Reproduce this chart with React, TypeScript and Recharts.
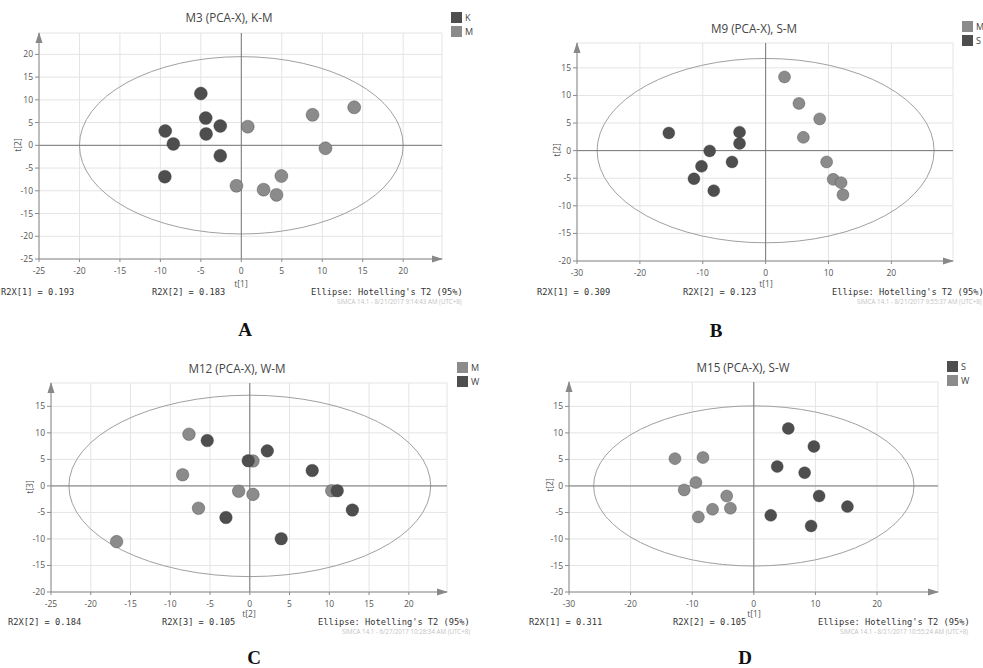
import React from 'react';
import {
  ScatterChart,
  Scatter,
  XAxis,
  YAxis,
  CartesianGrid,
  ReferenceLine,
  ReferenceArea,
  ReferenceDot,
} from 'recharts';

// ---- data (scores) ----
const m3K = [
  { x: -5.0, y: 11.4 }, { x: -4.4, y: 6.0 }, { x: -4.35, y: 2.5 }, { x: -2.6, y: 4.25 },
  { x: -9.4, y: 3.15 }, { x: -8.4, y: 0.3 }, { x: -2.6, y: -2.3 }, { x: -9.45, y: -6.9 },
];
const m3M = [
  { x: 0.8, y: 4.1 }, { x: 8.8, y: 6.7 }, { x: 13.95, y: 8.35 }, { x: 10.4, y: -0.65 },
  { x: 4.95, y: -6.75 }, { x: 2.75, y: -9.75 }, { x: 4.35, y: -10.9 }, { x: -0.6, y: -8.9 },
];

const m9S = [
  { x: -15.4, y: 3.2 }, { x: -4.15, y: 3.35 }, { x: -4.15, y: 1.3 }, { x: -8.9, y: -0.05 },
  { x: -10.2, y: -2.85 }, { x: -11.4, y: -5.1 }, { x: -5.35, y: -2.05 }, { x: -8.25, y: -7.25 },
];
const m9M = [
  { x: 3.0, y: 13.35 }, { x: 5.3, y: 8.55 }, { x: 8.6, y: 5.75 }, { x: 6.0, y: 2.4 },
  { x: 9.7, y: -2.05 }, { x: 10.75, y: -5.2 }, { x: 12.0, y: -5.8 }, { x: 12.3, y: -8.0 },
];

const m12M = [
  { x: -7.65, y: 9.75 }, { x: -8.45, y: 2.1 }, { x: -6.45, y: -4.2 }, { x: -1.4, y: -1.0 },
  { x: 0.4, y: -1.6 }, { x: 0.4, y: 4.7 }, { x: 10.3, y: -0.9 }, { x: -16.75, y: -10.5 },
];
const m12W = [
  { x: -5.35, y: 8.55 }, { x: 2.2, y: 6.6 }, { x: -0.2, y: 4.75 }, { x: 7.85, y: 2.9 },
  { x: 11.0, y: -0.9 }, { x: 12.9, y: -4.55 }, { x: -3.0, y: -5.95 }, { x: 3.95, y: -9.95 },
];

const m15W = [
  { x: -12.8, y: 5.15 }, { x: -8.25, y: 5.35 }, { x: -9.4, y: 0.65 }, { x: -11.3, y: -0.75 },
  { x: -4.4, y: -1.9 }, { x: -3.8, y: -4.2 }, { x: -6.7, y: -4.4 }, { x: -9.0, y: -5.85 },
];
const m15S = [
  { x: 5.6, y: 10.85 }, { x: 9.75, y: 7.45 }, { x: 3.8, y: 3.65 }, { x: 8.25, y: 2.5 },
  { x: 10.6, y: -1.9 }, { x: 15.2, y: -3.9 }, { x: 2.75, y: -5.55 }, { x: 9.3, y: -7.55 },
];

// Hotelling's T2 (95%) ellipse semi-axes [t-x, t-y]
const m3Ellipse = [20, 19.5];
const m9Ellipse = [26.8, 16.7];
const m12Ellipse = [22.75, 17.1];
const m15Ellipse = [26, 15.1];

const ticks25 = [-25, -20, -15, -10, -5, 0, 5, 10, 15, 20];
const ticks30 = [-30, -20, -10, 0, 10, 20];
const ticks20 = [-20, -15, -10, -5, 0, 5, 10, 15];

const DARK = '#4e4e4e';
const LIGHT = '#8b8b8b';
const MONO = '"DejaVu Sans Mono", "Liberation Mono", monospace';
const SANS = '"Open Sans", "Noto Sans", sans-serif';

const panels = [
  {
    key: 'A', left: 0, top: 0, width: 490, height: 310,
    margin: { top: 33, right: 48, bottom: 31, left: 9 },
    xDomain: [-25, 24.8], yDomain: [-25, 24.7], xTicks: ticks25, yTicks: ticks25,
    ellipse: m3Ellipse, r: 6.5,
    series: [{ name: 'K', color: DARK, data: m3K }, { name: 'M', color: LIGHT, data: m3M }],
    title: 'M3 (PCA-X), K-M', titleAt: [229, 17],
    legendAt: [451, 12], xLabel: 't[1]', xLabelAt: [241, 283], yLabel: 't[2]', yLabelAt: [17, 145],
    stat1: 'R2X[1] = 0.193', stat1At: 1, stat2: 'R2X[2] = 0.183', stat2At: 152,
    ellAt: 311, statY: 292,
    stamp: 'SIMCA 14.1 - 8/21/2017 9:14:43 AM (UTC+8)', stampAt: [337, 301],
    letterAt: [245, 330],
  },
  {
    key: 'B', left: 490, top: 0, width: 493, height: 310,
    margin: { top: 43, right: 30, bottom: 29, left: 57 },
    xDomain: [-30, 29.8], yDomain: [-20, 19.5], xTicks: ticks30, yTicks: ticks20,
    ellipse: m9Ellipse, r: 6,
    series: [{ name: 'S', color: DARK, data: m9S }, { name: 'M', color: LIGHT, data: m9M }],
    legendOrder: ['M', 'S'],
    title: 'M9 (PCA-X), S-M', titleAt: [754, 28],
    legendAt: [962, 21], xLabel: 't[1]', xLabelAt: [766, 283], yLabel: 't[2]', yLabelAt: [556, 150],
    stat1: 'R2X[1] = 0.309', stat1At: 537, stat2: 'R2X[2] = 0.123', stat2At: 683,
    ellAt: 832, statY: 292,
    stamp: 'SIMCA 14.1 - 8/21/2017 9:55:37 AM (UTC+8)', stampAt: [857, 301],
    letterAt: [716, 331],
  },
  {
    key: 'C', left: 0, top: 345, width: 490, height: 300,
    margin: { top: 38, right: 43, bottom: 33, left: 21 },
    xDomain: [-25, 24.8], yDomain: [-20, 19.4], xTicks: ticks25, yTicks: ticks20,
    ellipse: m12Ellipse, r: 6.3,
    series: [{ name: 'M', color: LIGHT, data: m12M }, { name: 'W', color: DARK, data: m12W }],
    title: 'M12 (PCA-X), W-M', titleAt: [237, 368],
    legendAt: [457, 362], xLabel: 't[2]', xLabelAt: [249, 613], yLabel: 't[3]', yLabelAt: [29, 487],
    stat1: 'R2X[2] = 0.184', stat1At: 8, stat2: 'R2X[3] = 0.105', stat2At: 162,
    ellAt: 318, statY: 622,
    stamp: 'SIMCA 14.1 - 6/27/2017 10:28:34 AM (UTC+8)', stampAt: [342, 631],
    letterAt: [254, 658],
  },
  {
    key: 'D', left: 490, top: 345, width: 493, height: 300,
    margin: { top: 37, right: 45, bottom: 33, left: 49 },
    xDomain: [-30, 29.9], yDomain: [-20, 19.6], xTicks: ticks30, yTicks: ticks20,
    ellipse: m15Ellipse, r: 6,
    series: [{ name: 'S', color: DARK, data: m15S }, { name: 'W', color: LIGHT, data: m15W }],
    title: 'M15 (PCA-X), S-W', titleAt: [743, 367],
    legendAt: [947, 361], xLabel: 't[1]', xLabelAt: [754, 613], yLabel: 't[2]', yLabelAt: [549, 485],
    stat1: 'R2X[1] = 0.311', stat1At: 529, stat2: 'R2X[2] = 0.105', stat2At: 673,
    ellAt: 818, statY: 622,
    stamp: 'SIMCA 14.1 - 8/21/2017 10:55:24 AM (UTC+8)', stampAt: [840, 631],
    letterAt: [745, 658],
  },
];

const abs = (x: number, y: number, extra: React.CSSProperties = {}): React.CSSProperties => ({
  position: 'absolute', left: x, top: y, whiteSpace: 'nowrap', ...extra,
});

function Panel({ p }: { p: any }) {
  const dot = (color: string) => (props: any) => (
    <circle cx={props.cx} cy={props.cy} r={p.r} fill={color} stroke="#3a3a3a" strokeOpacity={0.35} strokeWidth={1} />
  );
  const tickStyle = { fontSize: 8.5, fill: '#555', fontFamily: SANS };
  return (
    <div style={abs(p.left, p.top)}>
      <ScatterChart width={p.width} height={p.height} margin={p.margin}>
        <CartesianGrid stroke="#e4e4e4" />
        <XAxis
          type="number" dataKey="x" domain={p.xDomain} ticks={p.xTicks} height={20}
          stroke="#8a8a8a" tick={tickStyle} tickSize={3} tickMargin={6} interval={0}
        />
        <YAxis
          type="number" dataKey="y" domain={p.yDomain} ticks={p.yTicks} width={30}
          stroke="#8a8a8a" tick={tickStyle} tickSize={4} tickMargin={2} interval={0}
        />
        <ReferenceLine x={0} stroke="#777" strokeWidth={1} />
        <ReferenceLine y={0} stroke="#777" strokeWidth={1} />
        <ReferenceArea
          x1={-p.ellipse[0]} x2={p.ellipse[0]} y1={-p.ellipse[1]} y2={p.ellipse[1]}
          shape={(s: any) => (
            <ellipse
              cx={s.x + s.width / 2} cy={s.y + s.height / 2}
              rx={Math.abs(s.width) / 2} ry={Math.abs(s.height) / 2}
              fill="none" stroke="#a0a0a0" strokeWidth={1}
            />
          )}
        />
        <ReferenceDot
          x={p.xDomain[0]} y={p.yDomain[1]} ifOverflow="visible"
          shape={(s: any) => (
            <path d={`M${s.cx},${s.cy - 1} L${s.cx - 3.5},${s.cy + 10} L${s.cx + 3.5},${s.cy + 10} Z`} fill="#888" />
          )}
        />
        <ReferenceDot
          x={p.xDomain[1]} y={p.yDomain[0]} ifOverflow="visible"
          shape={(s: any) => (
            <path d={`M${s.cx + 1},${s.cy} L${s.cx - 10},${s.cy - 3.5} L${s.cx - 10},${s.cy + 3.5} Z`} fill="#888" />
          )}
        />
        {p.series.map((s: any) => (
          <Scatter key={s.name} name={s.name} data={s.data} isAnimationActive={false} shape={dot(s.color)} />
        ))}
      </ScatterChart>
    </div>
  );
}

function PanelText({ p }: { p: any }) {
  const order: string[] = p.legendOrder || p.series.map((s: any) => s.name);
  const colorOf = (n: string) => p.series.find((s: any) => s.name === n).color;
  const mono: React.CSSProperties = { fontFamily: MONO, fontSize: 8.7, color: '#333', lineHeight: '10px' };
  return (
    <>
      <div style={abs(p.titleAt[0], p.titleAt[1], { transform: 'translate(-50%,-50%)', fontFamily: SANS, fontSize: 11.7, color: '#444' })}>
        {p.title}
      </div>
      {order.map((n, i) => (
        <div key={n} style={abs(p.legendAt[0], p.legendAt[1] + i * 13.5, { display: 'flex', alignItems: 'center' })}>
          <div style={{ width: 11, height: 11, background: colorOf(n) }} />
          <span style={{ fontFamily: SANS, fontSize: 9, color: '#444', marginLeft: 3, lineHeight: '11px' }}>{n}</span>
        </div>
      ))}
      <div style={abs(p.xLabelAt[0], p.xLabelAt[1], { transform: 'translate(-50%,-50%)', fontFamily: SANS, fontSize: 8.5, color: '#555' })}>
        {p.xLabel}
      </div>
      <div style={abs(p.yLabelAt[0], p.yLabelAt[1], { transform: 'translate(-50%,-50%) rotate(-90deg)', fontFamily: SANS, fontSize: 8.5, color: '#555' })}>
        {p.yLabel}
      </div>
      <div style={abs(p.stat1At, p.statY - 5, mono)}>{p.stat1}</div>
      <div style={abs(p.stat2At, p.statY - 5, mono)}>{p.stat2}</div>
      <div style={abs(p.ellAt, p.statY - 5, mono)}>{"Ellipse: Hotelling's T2 (95%)"}</div>
      <div style={abs(p.stampAt[0], p.stampAt[1] - 3, { fontFamily: SANS, fontSize: 6.2, color: '#c2c2c2', lineHeight: '7px' })}>
        {p.stamp}
      </div>
      <div style={abs(p.letterAt[0], p.letterAt[1], { transform: 'translate(-50%,-50%)', fontFamily: '"Liberation Serif", "DejaVu Serif", serif', fontWeight: 700, fontSize: 19, lineHeight: '16px', color: '#111' })}>
        {p.key}
      </div>
    </>
  );
}

export default function App() {
  return (
    <div style={{ position: 'absolute', left: 0, top: 0, width: 983, height: 668, background: '#fff', overflow: 'hidden' }}>
      {panels.map((p) => (
        <Panel key={p.key} p={p} />
      ))}
      {panels.map((p) => (
        <PanelText key={p.key + 't'} p={p} />
      ))}
    </div>
  );
}
